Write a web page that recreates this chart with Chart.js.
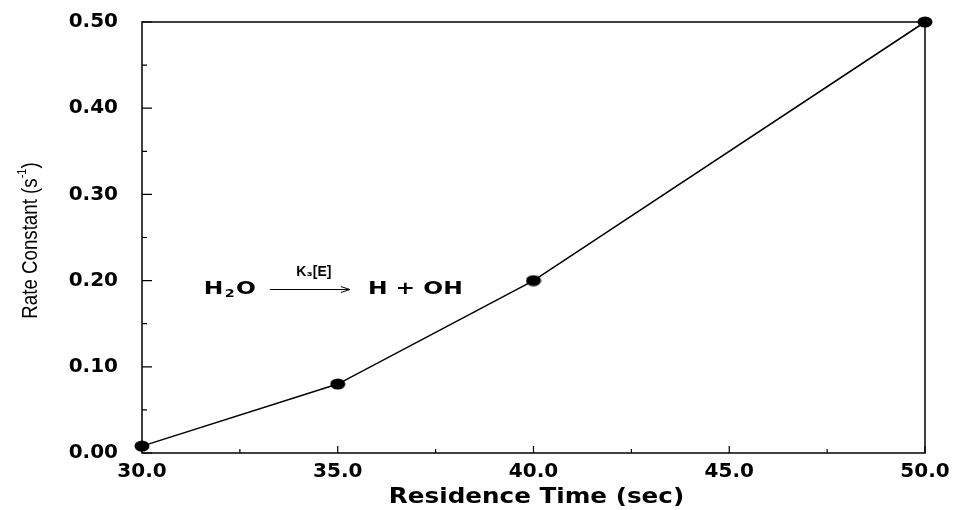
<!DOCTYPE html>
<html>
<head>
<meta charset="utf-8">
<script src="https://cdn.jsdelivr.net/npm/chart.js@4/dist/chart.umd.min.js"></script>
<style>
html,body{margin:0;padding:0;background:#fff;}
#wrap{width:957px;height:510px;position:relative;}
</style>
</head>
<body>
<div id="wrap"><canvas id="c" width="957" height="510"></canvas></div>
<script>
// ---- data ----
const residenceTime = [30.0, 35.0, 40.0, 50.0];
const rateConstant = [0.008, 0.08, 0.20, 0.50];
const xMajorTicks = [30, 35, 40, 45, 50];
const xMinorTicks = [32.5, 37.5, 42.5, 47.5];
const yMajorTicks = [0.0, 0.1, 0.2, 0.3, 0.4, 0.5];
const yMinorTicks = [0.05, 0.15, 0.25, 0.35, 0.45];
const xAxisTitle = 'Residence Time (sec)';
const yAxisTitle = 'Rate Constant (s';
const yAxisTitleSup = '-1';
const yAxisTitleEnd = ')';
const annotation = {x: 31.58, y: 0.185, left: 'H', sub: '2', leftEnd: 'O', above: 'K\u2083[E]', right: 'H + OH'};

// elliptical marker
const marker = document.createElement('canvas');
marker.width = 16; marker.height = 12;
(function(){
  const m = marker.getContext('2d');
  m.fillStyle = '#000';
  m.beginPath();
  m.ellipse(8, 6, 7.5, 5.5, 0, 0, Math.PI*2);
  m.fill();
})();

const frame = {
  id: 'frame',
  afterDatasetsDraw(chart) {
    const {ctx, chartArea: a, scales: {x, y}} = chart;
    ctx.save();
    ctx.strokeStyle = '#000';
    ctx.lineWidth = 1.5;
    ctx.strokeRect(a.left, a.top, a.right - a.left, a.bottom - a.top);
    ctx.lineWidth = 1.2;
    ctx.beginPath();
    yMajorTicks.forEach(v => { const p = y.getPixelForValue(v); ctx.moveTo(a.left, p); ctx.lineTo(a.left + 10, p); });
    yMinorTicks.forEach(v => { const p = y.getPixelForValue(v); ctx.moveTo(a.left, p); ctx.lineTo(a.left + 5, p); });
    xMajorTicks.forEach(v => { const p = x.getPixelForValue(v); ctx.moveTo(p, a.bottom); ctx.lineTo(p, a.bottom - 7); });
    xMinorTicks.forEach(v => { const p = x.getPixelForValue(v); ctx.moveTo(p, a.bottom); ctx.lineTo(p, a.bottom - 4); });
    ctx.stroke();

    ctx.fillStyle = '#000';
    // x axis title (wide bold)
    ctx.save();
    ctx.translate((a.left + a.right) / 2 + 3, 503);
    ctx.scale(1.12, 1);
    ctx.textAlign = 'center';
    ctx.textBaseline = 'alphabetic';
    ctx.font = 'bold 22px "DejaVu Sans"';
    ctx.fillText(xAxisTitle, 0, 0);
    ctx.restore();

    // y axis title (condensed, with superscript)
    ctx.save();
    ctx.translate(37, (a.top + a.bottom) / 2 + 3);
    ctx.rotate(-Math.PI / 2);
    ctx.scale(0.85, 1);
    ctx.textBaseline = 'alphabetic';
    ctx.textAlign = 'left';
    ctx.font = '22px "Liberation Sans"';
    const w1 = ctx.measureText(yAxisTitle).width;
    ctx.font = '13px "Liberation Sans"';
    const w2 = ctx.measureText(yAxisTitleSup).width;
    ctx.font = '22px "Liberation Sans"';
    const w3 = ctx.measureText(yAxisTitleEnd).width;
    let tx = -(w1 + w2 + w3) / 2;
    ctx.fillText(yAxisTitle, tx, 0);
    tx += w1;
    ctx.font = '13px "Liberation Sans"';
    ctx.fillText(yAxisTitleSup, tx, -11);
    tx += w2;
    ctx.font = '22px "Liberation Sans"';
    ctx.fillText(yAxisTitleEnd, tx, 0);
    ctx.restore();

    // reaction annotation
    const px = x.getPixelForValue(annotation.x);
    const py = y.getPixelForValue(annotation.y);
    ctx.textBaseline = 'alphabetic';
    ctx.textAlign = 'left';
    ctx.save();
    ctx.translate(px, py);
    ctx.scale(1.3, 1);
    ctx.font = 'bold 18px "DejaVu Sans"';
    let cx = 0;
    ctx.fillText(annotation.left, cx, 0);
    cx += ctx.measureText(annotation.left).width + 1;
    ctx.font = 'bold 11px "DejaVu Sans"';
    ctx.fillText(annotation.sub, cx, 3);
    cx += ctx.measureText(annotation.sub).width + 1;
    ctx.font = 'bold 18px "DejaVu Sans"';
    ctx.fillText(annotation.leftEnd, cx, 0);
    cx += ctx.measureText(annotation.leftEnd).width;
    ctx.restore();
    const endX = px + cx * 1.3;
    // arrow
    const ax0 = endX + 14, ax1 = ax0 + 80, ay = py - 4;
    ctx.lineWidth = 1;
    ctx.beginPath();
    ctx.moveTo(ax0, ay); ctx.lineTo(ax1, ay);
    ctx.moveTo(ax1 - 9, ay - 3); ctx.lineTo(ax1, ay); ctx.lineTo(ax1 - 9, ay + 3);
    ctx.stroke();
    ctx.font = 'bold 14px "Liberation Sans"';
    ctx.textAlign = 'center';
    ctx.fillText(annotation.above, ax0 + 44, ay - 14);
    ctx.save();
    ctx.translate(ax1 + 18, py);
    ctx.scale(1.3, 1);
    ctx.textAlign = 'left';
    ctx.font = 'bold 18px "DejaVu Sans"';
    ctx.fillText(annotation.right, 0, 0);
    ctx.restore();
    ctx.restore();
  }
};

new Chart(document.getElementById('c'), {
  type: 'scatter',
  data: {
    datasets: [{
      data: residenceTime.map((t, i) => ({x: t, y: rateConstant[i]})),
      showLine: true,
      borderColor: '#000',
      borderWidth: 1.5,
      pointStyle: marker,
      pointRadius: 7,
      pointHoverRadius: 7,
      backgroundColor: '#000'
    }]
  },
  options: {
    responsive: false,
    animation: false,
    events: [],
    clip: false,
    layout: {autoPadding: false, padding: {top: 22, right: 32, left: 0, bottom: 0}},
    plugins: {legend: {display: false}, tooltip: {enabled: false}},
    scales: {
      x: {
        type: 'linear', min: 30, max: 50,
        afterFit(s) { s.height = 57; s.paddingLeft = 0; s.paddingRight = 0; },
        afterBuildTicks(s) { s.ticks = xMajorTicks.map(v => ({value: v})); },
        grid: {display: false, drawTicks: false},
        border: {display: false},
        ticks: {color: '#000', padding: 7, font: {family: 'DejaVu Sans', weight: 'bold', size: 20}, callback: v => Number(v).toFixed(1)},
        title: {display: false}
      },
      y: {
        type: 'linear', min: 0, max: 0.5,
        afterFit(s) { s.width = 142; s.paddingTop = 0; s.paddingBottom = 0; },
        afterBuildTicks(s) { s.ticks = yMajorTicks.map(v => ({value: v})); },
        grid: {display: false, drawTicks: false},
        border: {display: false},
        ticks: {color: '#000', padding: 24, font: {family: 'DejaVu Sans', weight: 'bold', size: 20}, callback: v => Number(v).toFixed(2)},
        title: {display: false}
      }
    }
  },
  plugins: [frame]
});
</script>
</body>
</html>
